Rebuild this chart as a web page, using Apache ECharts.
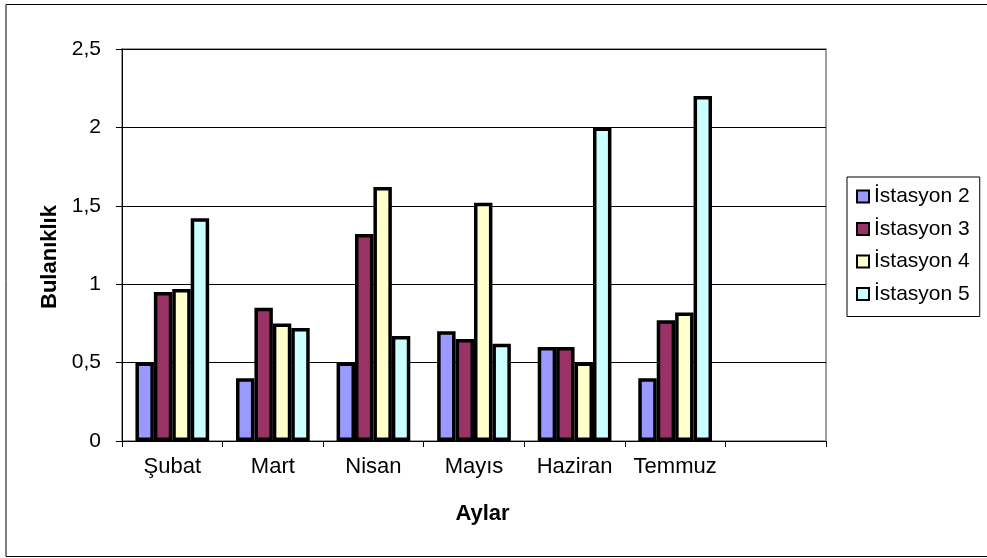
<!DOCTYPE html>
<html>
<head>
<meta charset="utf-8">
<script src="https://cdn.jsdelivr.net/npm/echarts@6/dist/echarts.min.js"></script>
<style>
html,body{margin:0;padding:0;background:#fff;}
#c{width:987px;height:558px;}
</style>
</head>
<body>
<div id="c"></div>
<script>
const categories = ['Şubat', 'Mart', 'Nisan', 'Mayıs', 'Haziran', 'Temmuz', ''];
const seriesNames = ['İstasyon 2', 'İstasyon 3', 'İstasyon 4', 'İstasyon 5'];
const istasyon2 = [0.50, 0.40, 0.50, 0.70, 0.60, 0.40];
const istasyon3 = [0.95, 0.85, 1.32, 0.65, 0.60, 0.77];
const istasyon4 = [0.97, 0.75, 1.62, 1.52, 0.50, 0.82];
const istasyon5 = [1.42, 0.72, 0.67, 0.62, 2.00, 2.20];
const yTickLabels = ['0', '0,5', '1', '1,5', '2', '2,5'];
const xTitle = 'Aylar';
const yTitle = 'Bulanıklık';

const colors = ['#9999FF', '#993366', '#FFFFCC', '#CCFFFF'];
const values = [istasyon2, istasyon3, istasyon4, istasyon5];
const font = 'Liberation Sans, Arial, sans-serif';

const chart = echarts.init(document.getElementById('c'), null, {renderer: 'canvas'});
chart.setOption({
  animation: false,
  backgroundColor: '#ffffff',
  graphic: [
    {type: 'rect', shape: {x: 6, y: 4.5, width: 990, height: 552}, style: {fill: 'none', stroke: '#000', lineWidth: 1}, silent: true, z: -1}
  ],
  grid: {left: 122, top: 49, width: 704, height: 392, show: true, borderColor: '#808080', borderWidth: 1.5, backgroundColor: 'transparent', containLabel: false},
  legend: {
    orient: 'vertical', left: 847, top: 177,
    padding: [9, 10, 12, 9], itemGap: 11.5, itemWidth: 12, itemHeight: 12,
    borderColor: '#000', borderWidth: 1,
    icon: 'rect',
    itemStyle: {borderColor: '#000', borderWidth: 2},
    textStyle: {fontFamily: font, fontSize: 21, color: '#000'},
    data: seriesNames
  },
  xAxis: {
    type: 'category', data: categories,
    name: xTitle, nameLocation: 'middle', nameGap: 62,
    nameTextStyle: {fontFamily: font, fontSize: 22, fontWeight: 'bold', color: '#000', padding: [0, 0, 0, 17]},
    axisLine: {lineStyle: {color: '#000', width: 1}},
    axisTick: {show: true, length: 6, alignWithLabel: false, lineStyle: {color: '#000'}},
    axisLabel: {fontFamily: font, fontSize: 22, color: '#000', margin: 15, interval: 0},
    splitLine: {show: false}
  },
  yAxis: {
    type: 'value', min: 0, max: 2.5, interval: 0.5,
    name: yTitle, nameLocation: 'middle', nameGap: 58, nameRotate: 90,
    nameTextStyle: {fontFamily: font, fontSize: 22, fontWeight: 'bold', color: '#000', padding: [0, 24, 0, 0]},
    axisLine: {show: true, lineStyle: {color: '#000', width: 1}},
    axisTick: {show: true, length: 6, lineStyle: {color: '#000'}},
    axisLabel: {fontFamily: font, fontSize: 21, color: '#000', margin: 21,
      formatter: function (v) { return yTickLabels[Math.round(v / 0.5)]; }},
    splitLine: {show: true, lineStyle: {color: '#000', width: 1}}
  },
  series: seriesNames.map((n, i) => ({
    name: n, type: 'bar', data: values[i],
    barGap: '0%', barCategoryGap: '26.7%',
    itemStyle: {color: colors[i], borderColor: '#000', borderWidth: 3.5},
    emphasis: {disabled: true}
  }))
});
</script>
</body>
</html>
